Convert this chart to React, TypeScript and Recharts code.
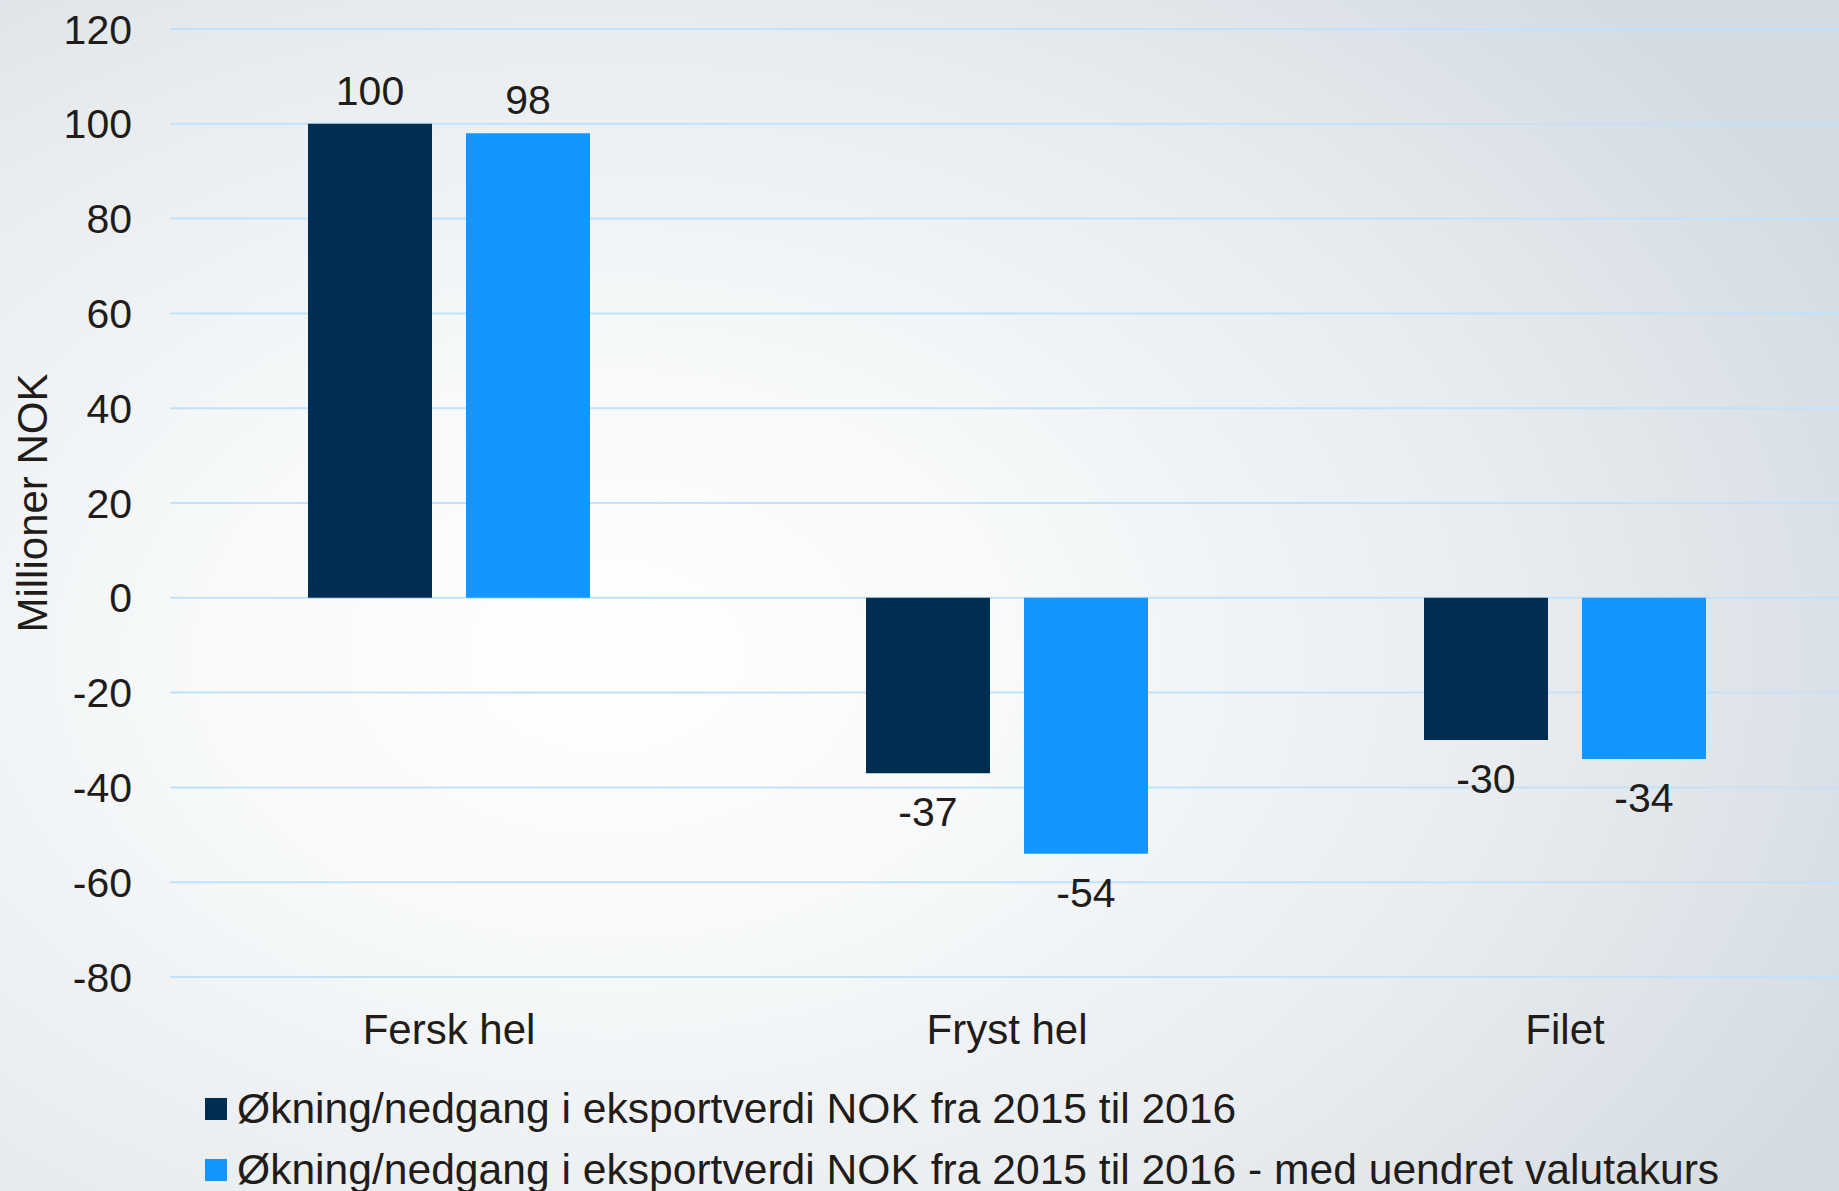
import React from 'react';
import { BarChart, Bar, XAxis, YAxis, CartesianGrid, Legend, LabelList } from 'recharts';

const categories = ['Fersk hel', 'Fryst hel', 'Filet'];
const changeNok = [100, -37, -30];
const changeFixedRate = [98, -54, -34];
const yTicks = [-80, -60, -40, -20, 0, 20, 40, 60, 80, 100, 120];
const seriesNames = [
  'Økning/nedgang i eksportverdi NOK fra 2015 til 2016',
  'Økning/nedgang i eksportverdi NOK fra 2015 til 2016 - med uendret valutakurs',
];
const seriesColors = ['#022D52', '#1396FF'];

const FONT = '"Liberation Sans", Arial, sans-serif';
const TEXT = '#1f1c19';

const chartData = categories.map((name, i) => ({
  name,
  nok: changeNok[i],
  fixed: changeFixedRate[i],
}));

// label above positive bars, below negative ones
const ValueLabel = (props: any) => {
  const { x, y, width, height, value } = props;
  const cx = x + width / 2;
  if (height >= 0) {
    return (
      <text x={cx} y={y - 19} textAnchor="middle" fontSize={41} fontFamily={FONT} fill={TEXT}>
        {value}
      </text>
    );
  }
  return (
    <text x={cx} y={y + 24} dy="0.71em" textAnchor="middle" fontSize={41} fontFamily={FONT} fill={TEXT}>
      {value}
    </text>
  );
};

const LegendBox = () => (
  <div style={{ paddingLeft: 205, fontFamily: FONT, fontSize: 42.6, color: TEXT }}>
    {seriesNames.map((s, i) => (
      <div key={s} style={{ height: 61, display: 'flex', alignItems: 'center', whiteSpace: 'nowrap' }}>
        <span style={{ width: 22, height: 22, background: seriesColors[i], marginRight: 10, flex: 'none' }} />
        <span>{s}</span>
      </div>
    ))}
  </div>
);

const App: React.FC = () => {
  return (
    <div
      style={{
        position: 'absolute',
        left: 0,
        top: 0,
        width: 1839,
        height: 1191,
        overflow: 'hidden',
        background:
          'radial-gradient(ellipse 75% 80% at 33% 55%, #ffffff 0%, #f7f9fa 30%, #e9edf0 65%, #dde3e8 85%, #d4dce2 100%)',
      }}
    >
      <BarChart
        width={1844}
        height={1191}
        data={chartData}
        margin={{ top: 29, right: 0, bottom: 0, left: 0 }}
        barGap={34}
        barSize={124}
      >
        <CartesianGrid vertical={false} stroke="#C2E1FA" strokeWidth={2} />
        <XAxis
          dataKey="name"
          axisLine={false}
          tickLine={false}
          height={92}
          tickMargin={31}
          tick={{ fontSize: 42, fontFamily: FONT, fill: TEXT }}
        />
        <YAxis
          domain={[-80, 120]}
          ticks={yTicks}
          interval={0}
          axisLine={false}
          tickLine={false}
          width={170}
          tickMargin={32}
          tick={{ fontSize: 41, fontFamily: FONT, fill: TEXT }}
          label={{
            value: 'Millioner NOK',
            angle: -90,
            position: 'insideLeft',
            offset: 32,
            style: { textAnchor: 'middle', fontSize: 42, fontFamily: FONT, fill: TEXT },
          }}
        />
        <Legend
          verticalAlign="bottom"
          align="left"
          layout="horizontal"
          content={<LegendBox />}
          wrapperStyle={{ left: 0, bottom: -9, height: 122 }}
        />
        <Bar dataKey="nok" name={seriesNames[0]} fill={seriesColors[0]} isAnimationActive={false}>
          <LabelList dataKey="nok" content={<ValueLabel />} />
        </Bar>
        <Bar dataKey="fixed" name={seriesNames[1]} fill={seriesColors[1]} isAnimationActive={false}>
          <LabelList dataKey="fixed" content={<ValueLabel />} />
        </Bar>
      </BarChart>
    </div>
  );
};

export default App;
